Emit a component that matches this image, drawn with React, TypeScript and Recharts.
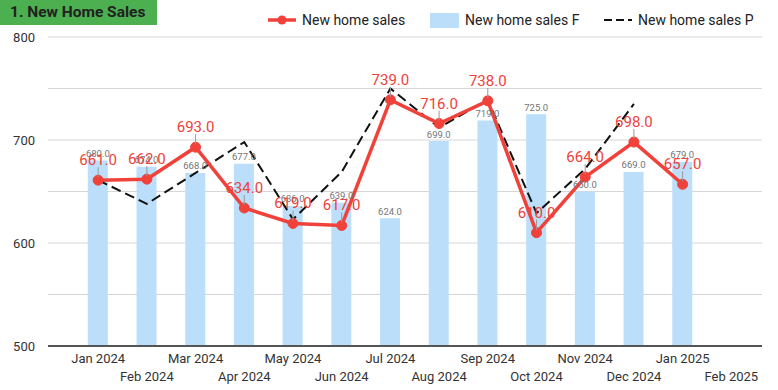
import React from "react";
import {
  ComposedChart,
  Bar,
  Line,
  XAxis,
  YAxis,
  CartesianGrid,
  LabelList,
} from "recharts";

const MONTHS = [
  "Jan 2024", "Feb 2024", "Mar 2024", "Apr 2024", "May 2024", "Jun 2024", "Jul 2024",
  "Aug 2024", "Sep 2024", "Oct 2024", "Nov 2024", "Dec 2024", "Jan 2025", "Feb 2025",
];
const SALES = [661, 662, 693, 634, 619, 617, 739, 716, 738, 610, 664, 698, 657, null];
const SALES_F = [680, 674, 668, 677, 636, 639, 624, 699, 719, 725, 650, 669, 679, null];
const SALES_P = [661, 638, 668, 698, 623, 669, 750, 712, 739, 629, 672, 735, null, null];
const Y_TICKS = [500, 550, 600, 650, 700, 750, 800];

const FONT = "Roboto, 'Noto Sans', sans-serif";
const RED = "#f0423a";
const BLUE = "#bbdefb";

const data = MONTHS.map((m, i) => ({
  x: i,
  month: m,
  sales: SALES[i],
  salesF: SALES_F[i],
  salesP: SALES_P[i],
}));

// month labels alternate between two rows
const XTick = (props: any) => {
  const { x, payload } = props;
  const i = payload.value as number;
  const label = MONTHS[i];
  if (!label) return null;
  return (
    <text
      x={x}
      y={i % 2 === 0 ? 358 : 376}
      textAnchor="middle"
      dominantBaseline="central"
      fill="#333"
      fontSize={13}
      fontFamily={FONT}
    >
      {label}
    </text>
  );
};

const YTick = (props: any) => {
  const { y, payload } = props;
  if (payload.value % 100 !== 0) return null;
  return (
    <text x={35} y={y} textAnchor="end" dominantBaseline="central" fill="#333" fontSize={13} fontFamily={FONT}>
      {payload.value}
    </text>
  );
};

const SalesLabel = (props: any) => {
  const { x, y, value } = props;
  if (value == null) return null;
  return (
    <g>
      <line x1={x} x2={x} y1={y - 13} y2={y - 3} stroke="#999" strokeWidth={1} />
      <text x={x} y={y - 20} textAnchor="middle" dominantBaseline="central" fill={RED} fontSize={15} fontFamily={FONT}>
        {Number(value).toFixed(1)}
      </text>
    </g>
  );
};

const BarLabel = (props: any) => {
  const { x, y, width, value } = props;
  if (value == null) return null;
  return (
    <text x={x + width / 2} y={y - 7} textAnchor="middle" dominantBaseline="central" fill="#757575" fontSize={9.5} fontFamily={FONT}>
      {Number(value).toFixed(1)}
    </text>
  );
};

function Legend() {
  const item: React.CSSProperties = { position: "absolute", top: 11, fontSize: 14, color: "#222", fontFamily: FONT, lineHeight: "18px" };
  return (
    <>
      <svg style={{ position: "absolute", left: 266, top: 12 }} width={32} height={16}>
        <line x1={2} x2={30} y1={8} y2={8} stroke={RED} strokeWidth={3.5} />
        <circle cx={16} cy={8} r={4.5} fill={RED} />
      </svg>
      <div style={{ ...item, left: 302 }}>New home sales</div>
      <div style={{ position: "absolute", left: 430, top: 13, width: 29, height: 15, background: BLUE }} />
      <div style={{ ...item, left: 465 }}>New home sales F</div>
      <svg style={{ position: "absolute", left: 602, top: 12 }} width={32} height={16}>
        <line x1={2} x2={30} y1={8} y2={8} stroke="#111" strokeWidth={2} strokeDasharray="8 4" />
      </svg>
      <div style={{ ...item, left: 638 }}>New home sales P</div>
    </>
  );
}

export default function App() {
  return (
    <div style={{ position: "absolute", left: 0, top: 0, width: 778, height: 390, background: "#fff" }}>
      <ComposedChart
        width={778}
        height={390}
        data={data}
        margin={{ top: 37, right: 16, bottom: 4, left: 0 }}
      >
        <CartesianGrid vertical={false} stroke="#d6d6d6" horizontalValues={Y_TICKS} />
        <XAxis
          dataKey="x"
          type="number"
          domain={[-1.03, 13.63]}
          ticks={MONTHS.map((_, i) => i)}
          interval={0}
          tick={<XTick />}
          tickLine={false}
          axisLine={{ stroke: "#555", strokeWidth: 2 }}
          height={40}
          allowDataOverflow
        />
        <YAxis
          domain={[500, 800]}
          ticks={Y_TICKS}
          interval={0}
          tick={<YTick />}
          tickLine={false}
          axisLine={false}
          width={48}
          allowDataOverflow
        />
        <Bar dataKey="salesF" fill={BLUE} barSize={20} isAnimationActive={false}>
          <LabelList dataKey="salesF" content={<BarLabel />} />
        </Bar>
        <Line
          dataKey="salesP"
          stroke="#111"
          strokeWidth={2}
          strokeDasharray="10 5"
          dot={false}
          activeDot={false}
          isAnimationActive={false}
        />
        <Line
          dataKey="sales"
          stroke={RED}
          strokeWidth={3.5}
          dot={{ r: 5, fill: RED, stroke: RED, strokeWidth: 1 }}
          activeDot={false}
          isAnimationActive={false}
        >
          <LabelList dataKey="sales" content={<SalesLabel />} />
        </Line>
      </ComposedChart>
      <div
        style={{
          position: "absolute",
          left: 0,
          top: 0,
          width: 157,
          height: 25,
          background: "#4caf50",
          color: "#212121",
          fontFamily: FONT,
          fontWeight: 700,
          fontSize: 15.5,
          lineHeight: "25px",
          paddingLeft: 10,
          boxSizing: "border-box",
        }}
      >
        1. New Home Sales
      </div>
      <Legend />
    </div>
  );
}
